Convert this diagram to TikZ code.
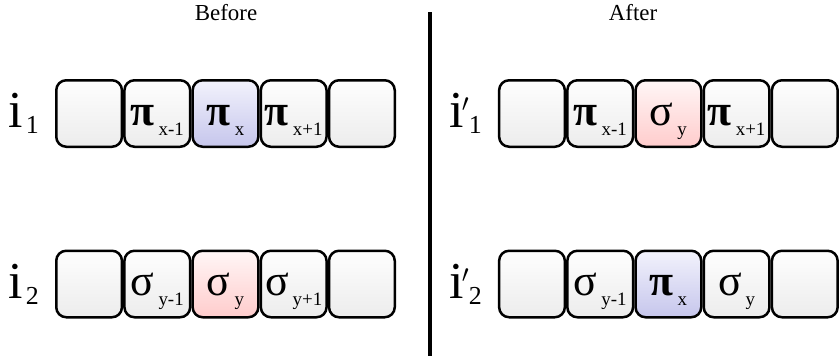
\documentclass[tikz,border=0pt]{standalone}
\usepackage{fontspec}
\setmainfont{Liberation Serif}
\usetikzlibrary{positioning}

\definecolor{cellTop}{RGB}{254,254,254}
\definecolor{cellBot}{RGB}{236,236,236}
\definecolor{blueTop}{RGB}{242,242,252}
\definecolor{blueBot}{RGB}{198,198,236}
\definecolor{redTop}{RGB}{255,246,246}
\definecolor{redBot}{RGB}{255,204,204}

% symbol with its index
\newcommand{\sym}[2]{{\fontsize{44}{44}\selectfont #1}\kern4bp\raisebox{-10bp}{\fontsize{19}{19}\selectfont #2}}
% register name
\newcommand{\reg}[1]{{\fontsize{52}{52}\selectfont i}\kern3bp\raisebox{-6bp}{\fontsize{26}{26}\selectfont #1}}
\newcommand{\regp}[1]{{\fontsize{52}{52}\selectfont i}\kern-2bp\rlap{\raisebox{16bp}{\fontsize{26}{26}\selectfont$\prime$}}\kern7bp\raisebox{-6bp}{\fontsize{26}{26}\selectfont #1}}

\begin{document}
\begin{tikzpicture}[x=1bp, y=-1bp, line join=round, line cap=round,
    cell/.style={draw, line width=2.5bp, rounded corners=10bp,
      minimum width=65.7bp, minimum height=66.5bp, inner sep=0pt,
      text height=23bp, text depth=0pt,
      top color=cellTop, bottom color=cellBot},
    bluecell/.style={cell, top color=blueTop, bottom color=blueBot},
    redcell/.style={cell, top color=redTop, bottom color=redBot},
    title/.style={font=\fontsize{23}{23}\selectfont}]

  \useasboundingbox (0,0) rectangle (839,356);

  % headings and divider
  \node[title] (before) at (226,13) {Before};
  \node[title] (after) at (633,13) {After};
  \coordinate (divtop) at (430,12);
  \coordinate (divbot) at (430,356);
  \draw[line width=3.5bp, line cap=butt] (divtop) -- (divbot);

  % before, row 1
  \node[anchor=base west] (i1) at (5,127) {\reg{1}};
  \node[cell] (a1) at (89.1,113.5) {};
  \node[cell, right=0bp of a1] (a2) {\sym{\textbf{π}}{x-1}};
  \node[bluecell, right=0bp of a2] (a3) {\sym{\textbf{π}}{x}};
  \node[cell, right=0bp of a3] (a4) {\sym{\textbf{π}}{x+1}};
  \node[cell, right=0bp of a4] (a5) {};

  % before, row 2
  \node[anchor=base west] (i2) at (5,298) {\reg{2}};
  \node[cell] (b1) at (89.1,284) {};
  \node[cell, right=0bp of b1] (b2) {\sym{σ}{y-1}};
  \node[redcell, right=0bp of b2] (b3) {\sym{σ}{y}};
  \node[cell, right=0bp of b3] (b4) {\sym{σ}{y+1}};
  \node[cell, right=0bp of b4] (b5) {};

  % after, row 1
  \node[anchor=base west] (j1) at (446,127) {\regp{1}};
  \node[cell] (c1) at (532,113.5) {};
  \node[cell, right=0bp of c1] (c2) {\sym{\textbf{π}}{x-1}};
  \node[redcell, right=0bp of c2] (c3) {\sym{σ}{y}};
  \node[cell, right=0bp of c3] (c4) {\sym{\textbf{π}}{x+1}};
  \node[cell, right=0bp of c4] (c5) {};

  % after, row 2
  \node[anchor=base west] (j2) at (446,298) {\regp{2}};
  \node[cell] (d1) at (532,284) {};
  \node[cell, right=0bp of d1] (d2) {\sym{σ}{y-1}};
  \node[bluecell, right=0bp of d2] (d3) {\sym{\textbf{π}}{x}};
  \node[cell, right=0bp of d3] (d4) {\sym{σ}{y}};
  \node[cell, right=0bp of d4] (d5) {};
\end{tikzpicture}
\end{document}
